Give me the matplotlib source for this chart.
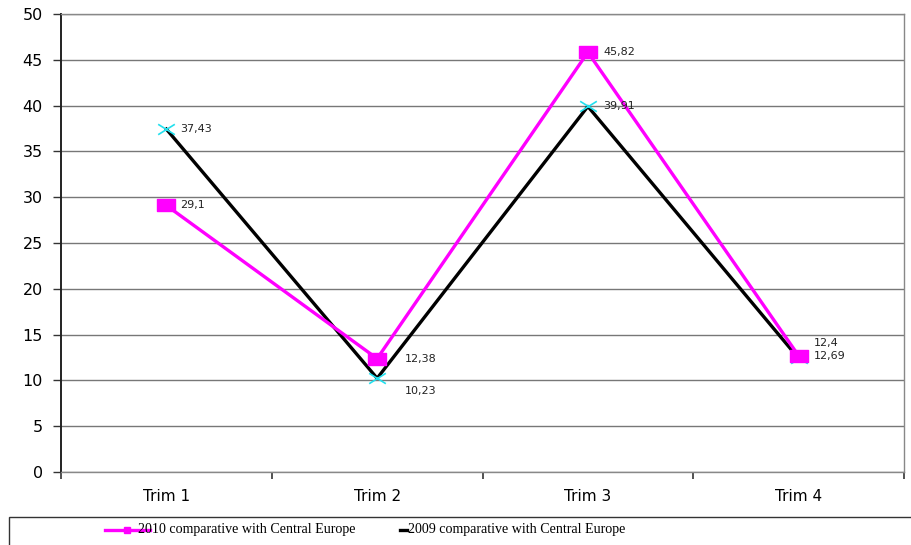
import matplotlib
matplotlib.use("Agg")
import matplotlib.pyplot as plt
from matplotlib.path import Path
from matplotlib.lines import Line2D
from matplotlib.patches import Rectangle

categories = ["Trim 1", "Trim 2", "Trim 3", "Trim 4"]
series_2010 = [29.1, 12.38, 45.82, 12.69]
series_2009 = [37.43, 10.23, 39.91, 12.4]
labels_2010 = ["29,1", "12,38", "45,82", "12,69"]
labels_2009 = ["37,43", "10,23", "39,91", "12,4"]
name_2010 = "2010 comparative with Central Europe"
name_2009 = "2009 comparative with Central Europe"

MAG = "#FF00FF"
CYAN = "#22E0EE"

W, H = 911, 545
fig = plt.figure(figsize=(W / 100, H / 100), dpi=100)
ax = fig.add_axes([61 / W, 1 - 472 / H, (904 - 61) / W, (472 - 14) / H])

x = list(range(len(categories)))
rect = Path([(-1.4, -1), (1.4, -1), (1.4, 1), (-1.4, 1), (-1.4, -1)],
            [Path.MOVETO, Path.LINETO, Path.LINETO, Path.LINETO, Path.CLOSEPOLY])
xmark = Path([(-1.6, -1), (1.6, 1), (-1.6, 1), (1.6, -1)],
             [Path.MOVETO, Path.LINETO, Path.MOVETO, Path.LINETO])

ax.plot(x, series_2009, color="black", lw=2.4, zorder=3)
ax.plot(x, series_2009, ls="none", marker=xmark, ms=12, mfc="none",
        mec=CYAN, mew=1.2, zorder=3.5)
ax.plot(x, series_2010, color=MAG, lw=2.4, marker=rect, ms=13,
        mfc=MAG, mec=MAG, zorder=4)

off_2010 = [(10, 0), (20, 0), (11, 0), (11, 0)]
off_2009 = [(10, 0), (20, -9), (11, 0), (11, 11)]
for i in x:
    ax.annotate(labels_2010[i], (x[i], series_2010[i]), xytext=off_2010[i],
                textcoords="offset points", fontsize=8, va="center",
                ha="left", color="#222222", zorder=5)
    ax.annotate(labels_2009[i], (x[i], series_2009[i]), xytext=off_2009[i],
                textcoords="offset points", fontsize=8, va="center",
                ha="left", color="#222222", zorder=5)

ax.set_xlim(-0.5, len(categories) - 0.5)
ax.set_ylim(0, 50)
ax.set_yticks(range(0, 51, 5))
ax.set_xticks(x)
ax.set_xticklabels(categories)
ax.set_xticks([i - 0.5 for i in range(len(categories) + 1)], minor=True)
ax.tick_params(axis="x", which="major", length=0, pad=12, labelsize=11)
ax.tick_params(axis="x", which="minor", length=5, width=1.2, color="#333333")
ax.tick_params(axis="y", length=6, width=1.0, color="#333333", pad=7, labelsize=11.5)
ax.yaxis.grid(True, color="#777777", lw=1.0)
ax.set_axisbelow(True)
for s in ["top", "right", "bottom"]:
    ax.spines[s].set_color("#888888")
    ax.spines[s].set_linewidth(1.0)
ax.spines["left"].set_color("#222222")
ax.spines["left"].set_linewidth(1.4)

# legend box
fig.patches.append(Rectangle((9 / W, -0.1), 1.0, (545 - 517) / H + 0.1,
                             transform=fig.transFigure, fill=False,
                             edgecolor="#333333", lw=1.0))
yl = 1 - 530 / H
fig.add_artist(Line2D([105 / W, 150 / W], [yl, yl], color=MAG, lw=2.4,
                      transform=fig.transFigure))
fig.add_artist(Line2D([127 / W], [yl], color=MAG, marker="s", ms=5,
                      transform=fig.transFigure))
fig.text(138 / W, yl, name_2010, family="Liberation Serif", fontsize=10.1,
         va="center", ha="left")
fig.add_artist(Line2D([400 / W, 407 / W], [yl, yl], color="black", lw=2.4,
                      transform=fig.transFigure))
fig.text(408 / W, yl, name_2009, family="Liberation Serif", fontsize=10.1,
         va="center", ha="left")

fig.savefig("out.png", dpi=100)
